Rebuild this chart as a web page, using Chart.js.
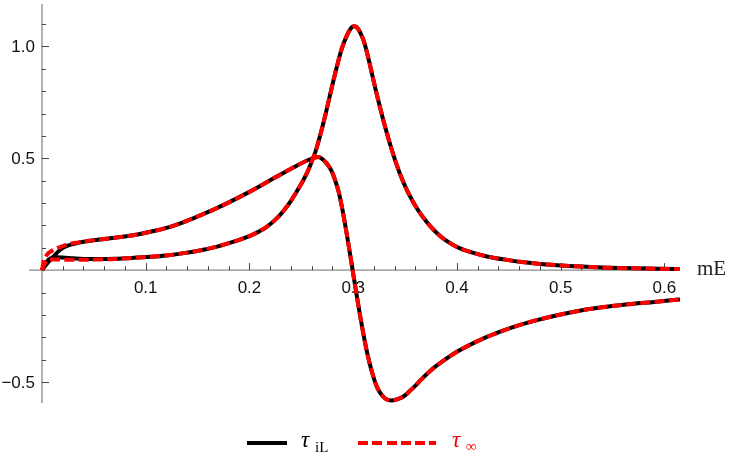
<!DOCTYPE html>
<html><head><meta charset="utf-8">
<script src="https://cdn.jsdelivr.net/npm/chart.js@4/dist/chart.umd.min.js"></script>
<style>
html,body{margin:0;padding:0;background:#fff;}
#wrap{position:relative;width:731px;height:472px;overflow:hidden;background:#fff;}
canvas{position:absolute;left:0;top:0;}
.t{position:absolute;font-family:"Liberation Serif","DejaVu Serif",serif;white-space:nowrap;line-height:1;}
</style></head><body>
<div id="wrap">
<canvas id="c" width="731" height="472"></canvas>
<div class="t" style="left:697px;top:258px;font-size:21px;color:#222;">mE</div>
<div style="position:absolute;left:247px;top:441px;width:40px;height:4px;background:#000;"></div>
<div class="t" style="left:301px;top:428px;font-size:23px;font-style:italic;color:#000;">τ</div>
<div class="t" style="left:315px;top:440px;font-size:15px;color:#000;">iL</div>
<div style="position:absolute;left:358px;top:441px;width:78px;height:4px;background:repeating-linear-gradient(90deg,#ff0000 0,#ff0000 10px,transparent 10px,transparent 14.3px);"></div>
<div class="t" style="left:452px;top:428px;font-size:23px;font-style:italic;color:#ff0000;">τ</div>
<div class="t" style="left:466px;top:439px;font-size:15px;color:#ff0000;">∞</div>
</div>
<script>
// ---- data ----
const xPeak   = [0,0.004,0.008,0.013,0.02,0.03,0.04,0.056,0.07,0.088,0.105,0.12,0.135,0.152,0.168,0.184,0.2,0.208,0.2167,0.225,0.233,0.24,0.249,0.255,0.26,0.264,0.268,0.273,0.278,0.284,0.289,0.294,0.2985,0.301,0.304,0.307,0.31,0.314,0.318,0.322,0.326,0.331,0.336,0.341,0.346,0.352,0.359,0.366,0.374,0.384,0.393,0.403,0.416,0.43,0.448,0.465,0.48,0.5,0.52,0.545,0.57,0.595,0.615];
const peakIL  = [0,0.035,0.052,0.058,0.057,0.053,0.050,0.050,0.051,0.055,0.060,0.066,0.075,0.088,0.104,0.126,0.152,0.170,0.194,0.226,0.266,0.31,0.378,0.43,0.485,0.535,0.60,0.69,0.79,0.905,0.99,1.05,1.085,1.09,1.083,1.06,1.027,0.96,0.88,0.80,0.725,0.637,0.556,0.483,0.420,0.356,0.295,0.245,0.198,0.152,0.122,0.097,0.077,0.06,0.046,0.035,0.028,0.021,0.016,0.011,0.008,0.006,0.005];
const peakInf = [0,0.040,0.048,0.048,0.047,0.046,0.046,0.048,0.050,0.055,0.060,0.066,0.075,0.088,0.104,0.126,0.152,0.170,0.194,0.226,0.266,0.31,0.378,0.43,0.485,0.535,0.60,0.69,0.79,0.905,0.99,1.05,1.085,1.09,1.083,1.06,1.027,0.96,0.88,0.80,0.725,0.637,0.556,0.483,0.420,0.356,0.295,0.245,0.198,0.152,0.122,0.097,0.077,0.06,0.046,0.035,0.028,0.021,0.016,0.011,0.008,0.006,0.005];

const xDisp   = [0,0.002,0.005,0.008,0.011,0.014,0.017,0.024,0.035,0.045,0.056,0.072,0.088,0.1,0.12,0.136,0.152,0.168,0.184,0.2,0.2167,0.23,0.2456,0.255,0.262,0.266,0.27,0.2745,0.279,0.2826,0.286,0.289,0.292,0.295,0.298,0.301,0.304,0.307,0.31,0.313,0.316,0.319,0.322,0.326,0.331,0.337,0.343,0.348,0.354,0.36,0.366,0.372,0.377,0.39,0.4,0.4256,0.4417,0.46,0.48,0.5,0.522,0.54,0.5606,0.59,0.615];
const dispIL  = [0,0.012,0.030,0.045,0.060,0.075,0.089,0.108,0.122,0.130,0.137,0.146,0.156,0.167,0.189,0.214,0.244,0.276,0.312,0.35,0.393,0.428,0.467,0.489,0.502,0.506,0.498,0.477,0.445,0.402,0.35,0.285,0.21,0.128,0.042,-0.045,-0.13,-0.213,-0.29,-0.36,-0.42,-0.47,-0.512,-0.549,-0.574,-0.583,-0.576,-0.566,-0.543,-0.516,-0.487,-0.46,-0.439,-0.395,-0.365,-0.305,-0.275,-0.246,-0.22,-0.198,-0.178,-0.166,-0.155,-0.142,-0.131];
const dispInf = [0,0.045,0.070,0.082,0.090,0.097,0.102,0.114,0.124,0.131,0.137,0.146,0.156,0.167,0.189,0.214,0.244,0.276,0.312,0.35,0.393,0.428,0.467,0.489,0.502,0.506,0.498,0.477,0.445,0.402,0.35,0.285,0.21,0.128,0.042,-0.045,-0.13,-0.213,-0.29,-0.36,-0.42,-0.47,-0.512,-0.549,-0.574,-0.583,-0.576,-0.566,-0.543,-0.516,-0.487,-0.46,-0.439,-0.395,-0.365,-0.305,-0.275,-0.246,-0.22,-0.198,-0.178,-0.166,-0.155,-0.142,-0.131];

const xTickLabels = [0.1,0.2,0.3,0.4,0.5,0.6];
const yTickLabels = [-0.5,0.5,1.0];
const xMinorStep = 0.02;
const yMinorStep = 0.1;

// ---- build chart ----
const pts = (xs, ys) => xs.map((v,i)=>({x:v,y:ys[i]}));
const black = '#000000', red = '#ff0000';
const common = {pointRadius:0, borderWidth:4, fill:false, cubicInterpolationMode:'monotone'};

const axesPlugin = {
  id:'mmaAxes',
  beforeDatasetsDraw(chart){
    const {ctx, chartArea:a, scales:{x,y}} = chart;
    const x0 = x.getPixelForValue(0), y0 = y.getPixelForValue(0);
    ctx.save();
    ctx.strokeStyle = '#8a8a8a'; ctx.lineWidth = 1.3;
    ctx.beginPath(); ctx.moveTo(x0, a.top); ctx.lineTo(x0, a.bottom); ctx.stroke();
    ctx.beginPath(); ctx.moveTo(a.left, y0); ctx.lineTo(a.right, y0); ctx.stroke();
    ctx.strokeStyle = '#444'; ctx.lineWidth = 1;
    for (let k = 1; k * xMinorStep <= x.max + 1e-9; k++) {
      const v = +(k * xMinorStep).toFixed(4);
      const major = xTickLabels.some(t => Math.abs(t - v) < 1e-6);
      const px = Math.round(x.getPixelForValue(v)) + 0.5;
      ctx.beginPath(); ctx.moveTo(px, y0); ctx.lineTo(px, y0 - (major ? 7 : 4)); ctx.stroke();
    }
    for (let k = Math.ceil(y.min / yMinorStep); k * yMinorStep <= y.max + 1e-9; k++) {
      if (k === 0) continue;
      const v = +(k * yMinorStep).toFixed(4);
      const major = yTickLabels.some(t => Math.abs(t - v) < 1e-6);
      const py = Math.round(y.getPixelForValue(v)) + 0.5;
      ctx.beginPath(); ctx.moveTo(x0, py); ctx.lineTo(x0 + (major ? 7 : 4), py); ctx.stroke();
    }
    ctx.fillStyle = '#111';
    ctx.font = '17px "Liberation Sans", Arial, sans-serif';
    ctx.textAlign = 'center'; ctx.textBaseline = 'top';
    xTickLabels.forEach(t => ctx.fillText(t.toFixed(1), x.getPixelForValue(t), y0 + 10));
    ctx.textAlign = 'right'; ctx.textBaseline = 'middle';
    yTickLabels.forEach(t => ctx.fillText((t < 0 ? '\u2212' : '') + Math.abs(t).toFixed(1), x0 - 7, y.getPixelForValue(t) + 1));
    ctx.restore();
  }
};

new Chart(document.getElementById('c'), {
  type:'line',
  data:{datasets:[
    {label:'τiL A', data:pts(xPeak,peakIL), borderColor:black, order:2, ...common},
    {label:'τiL B', data:pts(xDisp,dispIL), borderColor:black, order:2, ...common},
    {label:'τ∞ A', data:pts(xPeak,peakInf), borderColor:red, borderDash:[10,4.3], order:1, ...common},
    {label:'τ∞ B', data:pts(xDisp,dispInf), borderColor:red, borderDash:[10,4.3], order:1, ...common}
  ]},
  options:{
    responsive:false, animation:false,
    layout:{padding:{left:29,right:51,top:4,bottom:69}},
    plugins:{legend:{display:false}, tooltip:{enabled:false}},
    scales:{
      x:{type:'linear', min:-0.0125, max:0.615, display:false},
      y:{type:'linear', min:-0.594, max:1.19, display:false}
    }
  },
  plugins:[axesPlugin]
});
</script>
</body></html>
